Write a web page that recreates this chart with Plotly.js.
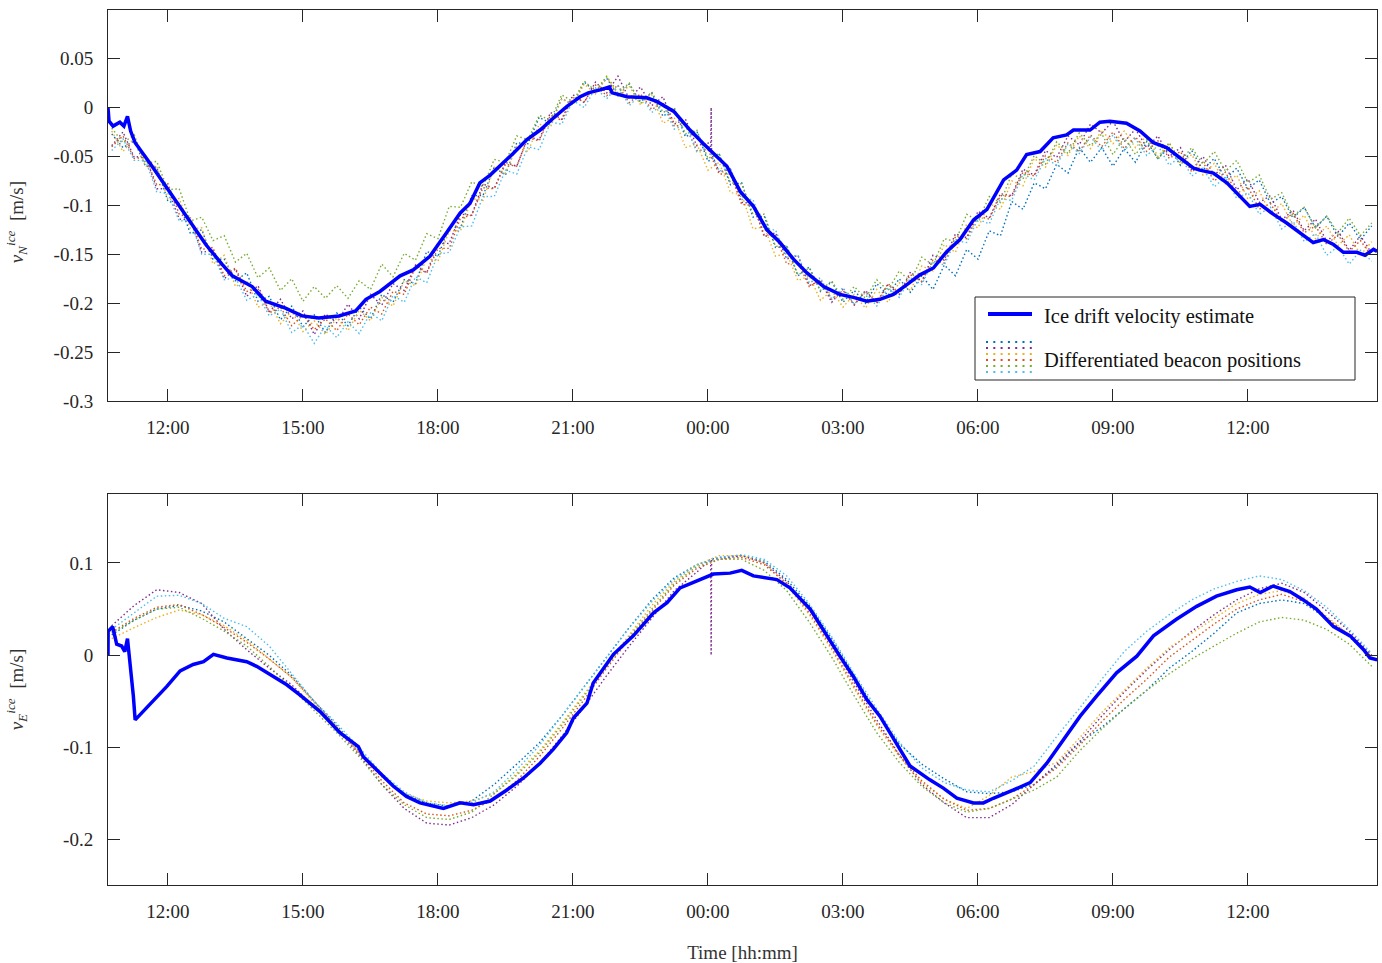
<!DOCTYPE html>
<html><head><meta charset="utf-8">
<script src="https://cdn.plot.ly/plotly-3.0.1.min.js"></script>
<style>html,body{margin:0;padding:0;background:#fff}#chart{width:1382px;height:963px}</style>
</head><body><div id="chart"></div>
<script>
// ---- Data (velocities in mm/s, times in hours since 00:00 of day 1) ----
const seriesNames = ['Beacon 1','Beacon 2','Beacon 3','Beacon 4','Beacon 5','Beacon 6'];
const seriesColors = ['#0072BD','#7E2F8E','#EDB120','#D95319','#77AC30','#4DBEEE'];

// Top panel: ice drift velocity estimate (north)
const estNorthT = [10.667,10.69,10.78,10.93,11.02,11.10,11.17,11.27,11.6,11.96,12.4,12.84,13.2,13.43,13.87,14.17,14.61,14.98,15.35,15.8,16.17,16.4,16.71,17.16,17.45,17.82,18.19,18.49,18.71,18.93,19.16,19.38,19.67,19.97,20.27,20.56,20.86,21.16,21.34,21.6,21.81,21.87,22.2,22.64,22.87,23.24,23.6,23.9,24.12,24.42,24.72,25.01,25.31,25.6,25.9,26.2,26.57,26.93,27.23,27.53,27.82,28.12,28.42,28.71,29.01,29.31,29.6,29.9,30.2,30.42,30.57,30.86,31.08,31.38,31.67,31.97,32.12,32.49,32.71,32.93,33.3,33.6,33.9,34.19,34.49,34.79,34.93,35.23,35.53,35.82,36.04,36.27,36.56,36.86,37.16,37.45,37.68,37.9,38.12,38.42,38.6,38.79,38.87];
const estNorthV = [0,-14,-19,-15,-19,-9,-24,-36,-57,-81,-111,-140,-160,-172,-183,-198,-205,-213,-215,-213,-208,-196,-188,-172,-166,-152,-128,-108,-98,-77,-69,-60,-47,-33,-23,-11,1,11,15,18,21,15,11,10,6,-4,-23,-37,-47,-60,-86,-101,-125,-138,-155,-169,-183,-191,-194,-198,-196,-191,-181,-171,-164,-147,-135,-115,-104,-87,-74,-64,-48,-45,-31,-28,-23,-23,-15,-14,-16,-24,-36,-41,-52,-62,-64,-67,-77,-91,-101,-99,-109,-118,-128,-138,-135,-140,-148,-148,-151,-145,-147];

// Bottom panel: ice drift velocity estimate (east)
const estEastT = [10.667,10.67,10.77,10.86,10.97,11.04,11.1,11.17,11.23,11.27,11.67,11.97,12.27,12.56,12.79,13.01,13.31,13.75,13.97,14.34,14.64,14.93,15.38,15.82,16.23,16.34,16.71,17.01,17.3,17.6,18.12,18.49,18.79,19.16,19.53,19.9,20.27,20.56,20.86,21.01,21.31,21.45,21.9,22.34,22.79,23.09,23.38,23.75,24.12,24.49,24.75,25.01,25.31,25.53,25.82,26.04,26.27,26.49,26.64,26.93,27.23,27.53,27.82,28.12,28.49,28.93,29.23,29.53,29.9,30.12,30.34,30.79,31.16,31.53,31.82,32.27,32.64,33.08,33.53,33.9,34.41,34.86,35.3,35.75,36.04,36.27,36.56,36.93,37.23,37.52,37.9,38.27,38.57,38.71,38.87];
const estEastV = [0,26,31,12,10,4,18,-12,-44,-70,-50,-34,-17,-10,-7,1,-3,-7,-12,-23,-32,-43,-61,-84,-99,-110,-128,-142,-153,-160,-166,-160,-162,-158,-146,-133,-117,-102,-84,-68,-52,-30,1,21,46,57,73,80,88,89,92,86,84,82,73,62,50,33,21,-1,-23,-48,-66,-91,-120,-135,-144,-155,-160,-160,-155,-146,-138,-117,-97,-66,-44,-19,-1,21,39,53,64,71,74,68,75,69,60,50,31,21,6,-3,-5];

// Differentiated beacon positions, north (sampled every 15 min from 10:45)
const northStart = 10.75, northStep = 0.25;
const north1 = [-27,-41,-34,-60,-61,-96,-98,-129,-125,-155,-155,-177,-169,-198,-193,-217,-203,-224,-212,-230,-210,-223,-204,-216,-191,-199,-176,-180,-147,-152,-122,-123,-90,-90,-61,-69,-36,-37,-10,-16,9,3,26,16,30,12,24,6,15,-9,-1,-30,-24,-55,-48,-79,-77,-112,-111,-143,-142,-172,-163,-188,-178,-199,-187,-200,-180,-192,-175,-189,-172,-186,-161,-172,-145,-155,-126,-131,-96,-104,-77,-83,-58,-67,-41,-56,-41,-60,-42,-56,-35,-52,-41,-59,-44,-64,-52,-73,-62,-83,-74,-98,-91,-113,-102,-123,-111,-132,-118,-135,-121];
const north2 = [-39,-25,-51,-49,-83,-83,-114,-115,-148,-146,-175,-165,-193,-182,-209,-196,-216,-208,-232,-211,-220,-201,-216,-191,-202,-180,-187,-161,-169,-138,-139,-109,-110,-78,-83,-56,-60,-30,-33,-5,-12,13,5,26,15,32,9,21,2,11,-17,-12,-39,-36,-66,-63,-97,-98,-132,-128,-155,-151,-182,-177,-199,-186,-202,-187,-200,-181,-191,-168,-178,-151,-156,-129,-133,-106,-113,-88,-90,-63,-69,-44,-51,-29,-38,-17,-26,-14,-35,-22,-41,-29,-50,-41,-64,-50,-69,-59,-84,-73,-97,-90,-115,-105,-126,-114,-137,-126,-146,-131,-149];
const north3 = [-24,-45,-31,-60,-60,-94,-93,-124,-123,-160,-151,-183,-177,-204,-199,-221,-208,-229,-218,-232,-215,-228,-207,-218,-194,-203,-177,-182,-154,-157,-126,-126,-93,-95,-61,-67,-40,-45,-17,-20,9,3,24,14,31,13,22,3,13,-16,-10,-41,-37,-64,-56,-87,-89,-124,-122,-152,-149,-177,-172,-197,-187,-204,-191,-205,-186,-199,-179,-187,-162,-167,-140,-148,-119,-123,-98,-104,-75,-80,-52,-61,-38,-49,-29,-42,-23,-37,-24,-41,-29,-50,-36,-58,-48,-69,-57,-78,-69,-94,-85,-109,-98,-121,-110,-134,-121,-141,-130,-151,-137];
const north4 = [-40,-29,-52,-51,-79,-78,-109,-113,-145,-143,-172,-164,-188,-185,-210,-204,-223,-212,-227,-216,-228,-211,-222,-204,-211,-188,-191,-163,-169,-144,-144,-113,-110,-82,-83,-58,-60,-31,-34,-8,-13,10,6,23,12,23,5,14,-2,5,-19,-18,-44,-43,-68,-68,-99,-100,-130,-131,-160,-158,-183,-176,-196,-187,-201,-188,-199,-180,-190,-171,-178,-156,-159,-132,-134,-111,-114,-90,-91,-66,-70,-49,-56,-36,-45,-28,-40,-25,-42,-30,-45,-34,-52,-45,-66,-56,-75,-66,-88,-81,-104,-98,-117,-108,-128,-121,-140,-130,-147,-136,-152];
const north5 = [-21,-36,-28,-57,-55,-84,-83,-116,-112,-136,-131,-158,-149,-174,-164,-187,-175,-198,-183,-195,-182,-195,-177,-186,-160,-173,-149,-156,-129,-134,-101,-102,-76,-81,-53,-56,-29,-33,-8,-13,13,6,27,17,32,15,25,4,16,-5,0,-27,-23,-52,-47,-77,-78,-109,-109,-142,-141,-171,-164,-187,-177,-196,-183,-195,-176,-187,-167,-178,-153,-161,-134,-137,-109,-116,-91,-97,-68,-73,-49,-58,-35,-47,-26,-39,-27,-48,-31,-48,-33,-53,-36,-55,-41,-58,-45,-65,-54,-77,-69,-94,-87,-111,-102,-123,-111,-128,-113,-131,-118];
const north6 = [-44,-32,-54,-54,-86,-88,-116,-115,-150,-150,-176,-174,-197,-191,-213,-206,-230,-222,-241,-223,-235,-219,-231,-210,-218,-192,-199,-173,-179,-150,-148,-122,-121,-91,-91,-64,-68,-40,-43,-15,-17,7,0,20,9,22,2,13,-5,3,-22,-18,-45,-41,-65,-62,-94,-94,-125,-125,-153,-151,-179,-174,-196,-184,-201,-189,-203,-184,-194,-174,-181,-157,-161,-136,-138,-114,-119,-93,-95,-68,-74,-52,-59,-37,-47,-30,-44,-28,-44,-32,-49,-39,-59,-50,-70,-62,-81,-71,-93,-87,-109,-102,-124,-116,-137,-129,-151,-142,-160,-146,-157];

// Differentiated beacon positions, east (sampled every 30 min from 10:45)
const eastStart = 10.75, eastStep = 0.5;
const east1 = [22,38,50,54,48,36,18,0,-22,-50,-76,-104,-130,-150,-160,-164,-158,-140,-118,-95,-66,-34,-2,30,60,84,98,106,108,102,82,54,18,-22,-62,-96,-118,-134,-148,-150,-148,-140,-120,-95,-78,-58,-38,-14,4,24,46,56,60,56,40,20,-2];
const east2 = [32,54,71,68,56,28,6,-14,-32,-56,-80,-108,-140,-166,-182,-184,-176,-162,-142,-118,-88,-56,-22,10,40,70,90,104,108,100,80,50,12,-30,-70,-108,-140,-160,-176,-176,-162,-140,-118,-94,-66,-40,-16,6,26,44,60,72,78,68,48,26,0];
const east3 = [18,30,41,49,44,32,16,-4,-24,-52,-78,-106,-132,-150,-158,-160,-158,-150,-128,-104,-74,-42,-10,22,54,80,98,108,108,100,76,44,6,-36,-76,-110,-138,-156,-166,-152,-132,-126,-116,-90,-62,-38,-14,8,24,40,56,66,70,62,42,22,-4];
const east4 = [25,40,52,55,44,30,14,-4,-24,-50,-78,-106,-136,-160,-172,-174,-168,-156,-136,-110,-80,-48,-14,18,48,76,94,104,106,98,78,46,8,-34,-74,-108,-136,-156,-168,-166,-156,-140,-122,-98,-72,-48,-26,-2,16,34,50,60,66,58,40,22,-2];
const east5 = [24,38,50,52,40,26,10,-12,-36,-60,-84,-110,-140,-162,-176,-178,-170,-150,-130,-106,-76,-44,-12,20,50,78,96,104,104,92,70,36,-2,-44,-84,-116,-142,-160,-170,-166,-156,-146,-132,-104,-80,-58,-38,-20,-4,10,24,36,41,38,28,12,-12];
const east6 = [28,46,64,65,56,40,31,10,-20,-50,-74,-100,-128,-148,-160,-163,-160,-148,-124,-98,-66,-34,-2,30,58,82,98,106,109,104,86,56,20,-20,-58,-94,-122,-138,-146,-148,-136,-120,-88,-58,-26,4,26,44,60,72,80,86,82,70,52,28,2];

// Outlier sample of beacon 2 around midnight
const spikeT = [24.06, 24.07, 24.08];
const spikeNorthV = [-46, 0, -47];
const spikeEastV = [104, 0, 105];

// Axis ticks
const yTopTickVals = [0.05,0,-0.05,-0.1,-0.15,-0.2,-0.25,-0.3];
const yTopTickText = ['0.05','0','-0.05','-0.1','-0.15','-0.2','-0.25','-0.3'];
const yBotTickVals = [0.1,0,-0.1,-0.2];
const yBotTickText = ['0.1','0','-0.1','-0.2'];

// ---- Build ----
function toDate(h){
  const ms = Date.UTC(2018,0,1) + Math.round(h*3600000);
  return new Date(ms).toISOString().replace('T',' ').replace('Z','');
}
const toMs = v => v.map(x => x/1000);
function gridTimes(n, start, step){ const t=[]; for(let i=0;i<n;i++) t.push(start+step*i); return t; }
function mergeSpike(t, v, st, sv){
  const pts = t.map((x,i)=>[x,v[i]]).concat(st.map((x,i)=>[x,sv[i]]));
  pts.sort((a,b)=>a[0]-b[0]);
  return [pts.map(p=>p[0]), pts.map(p=>p[1])];
}

const northSeries = [north1,north2,north3,north4,north5,north6];
const eastSeries = [east1,east2,east3,east4,east5,east6];
const traces = [];
northSeries.forEach((s,i)=>{
  let t = gridTimes(s.length, northStart, northStep), v = s;
  if(i===1){ [t,v] = mergeSpike(t, v, spikeT, spikeNorthV); }
  traces.push({x:t.map(toDate), y:toMs(v), xaxis:'x', yaxis:'y', type:'scatter', mode:'lines',
    name:seriesNames[i], showlegend:false, hoverinfo:'skip',
    line:{color:seriesColors[i], width:1.4, dash:'1.5px,2.5px'}});
});
eastSeries.forEach((s,i)=>{
  let t = gridTimes(s.length, eastStart, eastStep), v = s;
  if(i===1){ [t,v] = mergeSpike(t, v, spikeT, spikeEastV); }
  traces.push({x:t.map(toDate), y:toMs(v), xaxis:'x2', yaxis:'y2', type:'scatter', mode:'lines',
    name:seriesNames[i], showlegend:false, hoverinfo:'skip',
    line:{color:seriesColors[i], width:1.4, dash:'1.5px,2.5px'}});
});
traces.push({x:estNorthT.map(toDate), y:toMs(estNorthV), xaxis:'x', yaxis:'y', type:'scatter', mode:'lines',
  name:'Ice drift velocity estimate', showlegend:false, line:{color:'#0000FF', width:3.5}});
traces.push({x:estEastT.map(toDate), y:toMs(estEastV), xaxis:'x2', yaxis:'y2', type:'scatter', mode:'lines',
  name:'Ice drift velocity estimate', showlegend:false, line:{color:'#0000FF', width:3.5}});

const FONT = 'Liberation Serif, Times New Roman, serif';
const axCol = '#262626';
function xAx(anchor, extra){
  return Object.assign({type:'date', anchor:anchor, domain:[0,1],
    range:[toDate(10.667), toDate(38.867)], tick0:toDate(0), dtick:3*3600000, tickformat:'%H:%M',
    ticks:'inside', ticklen:12, tickcolor:axCol, showline:true, mirror:'ticks', linecolor:axCol, linewidth:1,
    showgrid:false, zeroline:false, automargin:false, ticklabelstandoff:9,
    tickfont:{family:FONT, size:19, color:axCol}}, extra||{});
}
function yAx(anchor, domain, range, tv, tt, title, standoff){
  return {anchor:anchor, domain:domain, range:range, tickvals:tv, ticktext:tt,
    ticks:'inside', ticklen:12, tickcolor:axCol, showline:true, mirror:'ticks', linecolor:axCol, linewidth:1,
    showgrid:false, zeroline:false, automargin:false, ticklabelstandoff:10,
    tickfont:{family:FONT, size:19, color:axCol},
    title:{text:title, font:{family:FONT, size:19, color:'#333'}, standoff:standoff}};
}

// legend drawn manually (paper coordinates)
const px2x = p => (p-108)/1269, py2y = p => (885-p)/875;
const shapes = [
  {type:'rect', xref:'paper', yref:'paper', x0:px2x(975), x1:px2x(1355), y0:py2y(380), y1:py2y(297),
   fillcolor:'#ffffff', line:{color:axCol, width:1}},
  {type:'line', xref:'paper', yref:'paper', x0:px2x(988), x1:px2x(1032), y0:py2y(314), y1:py2y(314),
   line:{color:'#0000FF', width:4}}
];
[342,348,354,360,366,372].forEach((py,i)=>{
  shapes.push({type:'line', xref:'paper', yref:'paper', x0:px2x(986), x1:px2x(1033), y0:py2y(py), y1:py2y(py),
    line:{color:seriesColors[i], width:2, dash:'2px,5.3px'}});
});
const annotations = [
  {xref:'paper', yref:'paper', x:px2x(1042), y:py2y(316), xanchor:'left', yanchor:'middle', showarrow:false,
   text:'Ice drift velocity estimate', font:{family:FONT, size:20.5, color:'#111'}},
  {xref:'paper', yref:'paper', x:px2x(1042), y:py2y(360), xanchor:'left', yanchor:'middle', showarrow:false,
   text:'Differentiated beacon positions', font:{family:FONT, size:20.5, color:'#111'}}
];

const layout = {
  width:1382, height:963, paper_bgcolor:'#fff', plot_bgcolor:'#fff',
  margin:{l:108, r:5, t:10, b:78},
  showlegend:false,
  font:{family:FONT, size:19, color:axCol},
  xaxis: xAx('y'),
  yaxis: yAx('x', [0.5531,1], [-0.3,0.0997], yTopTickVals, yTopTickText,
    '<i>v</i><sub><i>N</i></sub><sup><i>ice</i></sup>  [m/s]&nbsp;&nbsp;&nbsp;&nbsp;&nbsp;&nbsp;&nbsp;', 24),
  xaxis2: xAx('y2', {title:{text:'Time [hh:mm]', font:{family:FONT, size:19, color:'#333'}, standoff:24}}),
  yaxis2: yAx('x2', [0,0.4469], [-0.249,0.1748], yBotTickVals, yBotTickText,
    '<i>v</i><sub><i>E</i></sub><sup><i>ice</i></sup>  [m/s]', 34),
  shapes:shapes, annotations:annotations
};
Plotly.newPlot('chart', traces, layout, {displayModeBar:false, staticPlot:true});
</script>
</body></html>
